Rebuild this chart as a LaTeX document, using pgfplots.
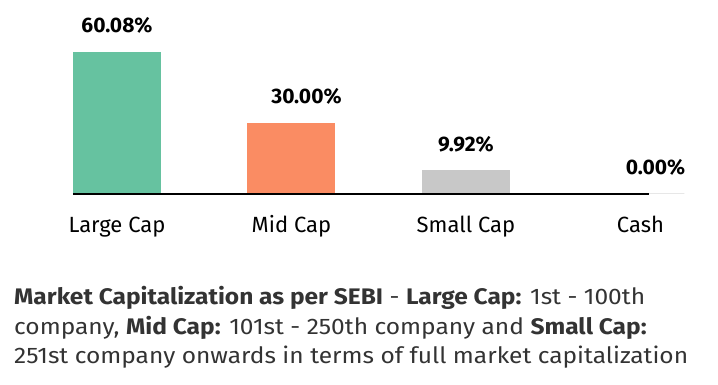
\documentclass[border=0pt]{standalone}
\usepackage{pgfplots}
\pgfplotsset{compat=1.18}
\usepackage{fontspec}
\setmainfont{Fira Sans}
\definecolor{cgreen}{HTML}{66C2A0}
\definecolor{corange}{HTML}{FA8C63}
\definecolor{cgray}{HTML}{C8C8C8}
\definecolor{ctext}{HTML}{333333}
\begin{document}
\begin{tikzpicture}
\begin{axis}[
  scale only axis,
  width=576pt, height=166pt,
  xmin=-0.252, xmax=3.049,
  ymin=0, ymax=70,
  axis x line*=bottom,
  axis y line=none,
  axis on top,
  clip=false,
  x axis line style={black, line width=1.2pt, -},
  xtick={0,1,2,3},
  xticklabels={Large Cap, Mid Cap, Small Cap, Cash},
  major tick length=0pt,
  xticklabel style={font=\fontsize{22}{26}\selectfont, anchor=base, yshift=-39pt},
  ybar, bar width=0.504, bar shift=0pt,
  /pgf/number format/assume math mode=true,
  nodes near coords={\pgfmathprintnumber[fixed,fixed zerofill,precision=2,assume math mode=true]{\pgfplotspointmeta}\%},
  nodes near coords style={font=\bfseries\fontsize{21}{25}\selectfont, anchor=base, inner sep=0pt, yshift=19pt},
]
\addplot[fill=cgreen, draw=none] coordinates {(0,60.08)};
\addplot[fill=corange, draw=none, every node near coord/.append style={xshift=15pt}] coordinates {(1,30.00)};
\addplot[fill=cgray, draw=none] coordinates {(2,9.92)};
\addplot[fill=cgray, draw=cgray, line width=1pt, every node near coord/.append style={xshift=15pt}] coordinates {(3,0.00)};
\coordinate (O) at (rel axis cs:0,0);
\end{axis}
\path (O) ++(-73pt,-191pt) rectangle ++(718pt,385pt);
\node[anchor=base west, inner sep=0pt, text=ctext] at ([xshift=-59pt,yshift=-111pt]O)
 {\scalebox{1.09}[1]{\fontsize{22.5}{29.5}\selectfont\begin{tabular}[t]{@{}l@{}}
  \textbf{Market Capitalization as per SEBI} - \textbf{Large Cap:} 1st - 100th\\
  company, \textbf{Mid Cap:} 101st - 250th company and \textbf{Small Cap:}\\
  251st company onwards in terms of full market capitalization
  \end{tabular}}};
\end{tikzpicture}
\end{document}
